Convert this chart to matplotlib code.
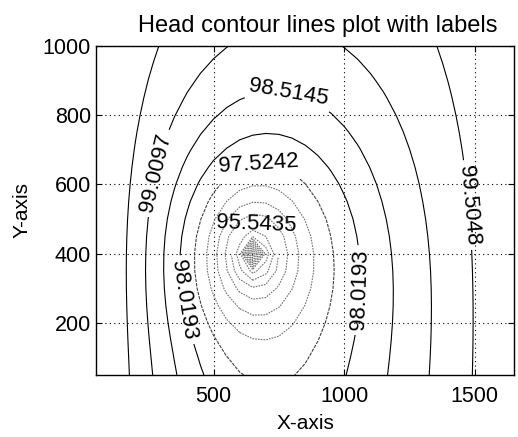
import numpy as np
import matplotlib.pyplot as plt

plt.rcParams['font.family'] = ['Liberation Sans', 'DejaVu Sans']

# contour levels (head values), as printed by the labels
levels = [90.0967, 90.5918, 91.0870, 91.5822, 92.0773, 92.5725, 93.0677,
          93.5628, 94.0580, 94.5532, 95.0483, 95.5435, 96.0387, 96.5338,
          97.0290, 97.5242, 98.0193, 98.5145, 99.0097, 99.5048]
labelled = [95.5435, 97.5242, 98.0193, 98.5145, 99.0097, 99.5048]
label_pos = [(784, 843), (288, 632), (674, 661), (670, 506),
             (387, 266), (1055, 295), (1471, 540)]

# model grid and well
x_nodes = np.arange(50, 1651, 50)
y_nodes = np.arange(50, 1001, 50)
well_x, well_y = 655, 398
pump = 11.2
h_boundary = 100.0
x_left, x_right = 90, 1660      # fixed head sides
y_bottom = -25                  # leaky side below
image_share = 0.6


def strip_green(x, y, xw, yw):
    L = x_right - x_left
    ch = np.cosh(np.pi * (y - yw) / L)
    num = ch - np.cos(np.pi * ((x - x_left) + (xw - x_left)) / L)
    den = ch - np.cos(np.pi * ((x - x_left) - (xw - x_left)) / L)
    return np.log(num / den) / (4 * np.pi)


X, Y = np.meshgrid(x_nodes, y_nodes)
G = strip_green(X, Y, well_x, well_y)
G += image_share * strip_green(X, Y, well_x, 2 * y_bottom - well_y)
head = h_boundary - pump * G


def style(lv):
    if lv >= 98.0:
        return 'black', 'solid'
    if lv >= 97.5:
        return '0.25', (0, (3, 1))
    return '0.45', (0, (1.5, 1))


plain = [lv for lv in levels if lv not in labelled]

fig = plt.figure(figsize=(5.18, 4.37), dpi=100)
ax = fig.add_axes([0.1853, 0.1419, 0.807, 0.7538])

ax.grid(True, linestyle=(0, (1, 3)), color='black', linewidth=0.8)
cs1 = ax.contour(X, Y, head, levels=plain,
                 colors=[style(v)[0] for v in plain],
                 linestyles=[style(v)[1] for v in plain], linewidths=0.8)
cs2 = ax.contour(X, Y, head, levels=labelled,
                 colors=[style(v)[0] for v in labelled],
                 linestyles=[style(v)[1] for v in labelled], linewidths=0.8)
ax.clabel(cs2, manual=label_pos, fmt='%.4f',
          inline=True, fontsize=16, colors='black')

ax.set_xlim(50, 1650)
ax.set_ylim(50, 1000)
ax.set_xticks([500, 1000, 1500])
ax.set_yticks([200, 400, 600, 800, 1000])
ax.tick_params(direction='in', top=True, right=True, length=4,
               labelsize=15.5)
ax.tick_params(axis='x', pad=8)
for s in ax.spines.values():
    s.set_linewidth(1.0)

ax.set_title('Head contour lines plot with labels', fontsize=17, pad=10,
             x=0.53)
ax.set_xlabel('X-axis', fontsize=15, labelpad=5)
ax.set_ylabel('Y-axis', fontsize=15, labelpad=8)

fig.savefig('out.png', dpi=100)
